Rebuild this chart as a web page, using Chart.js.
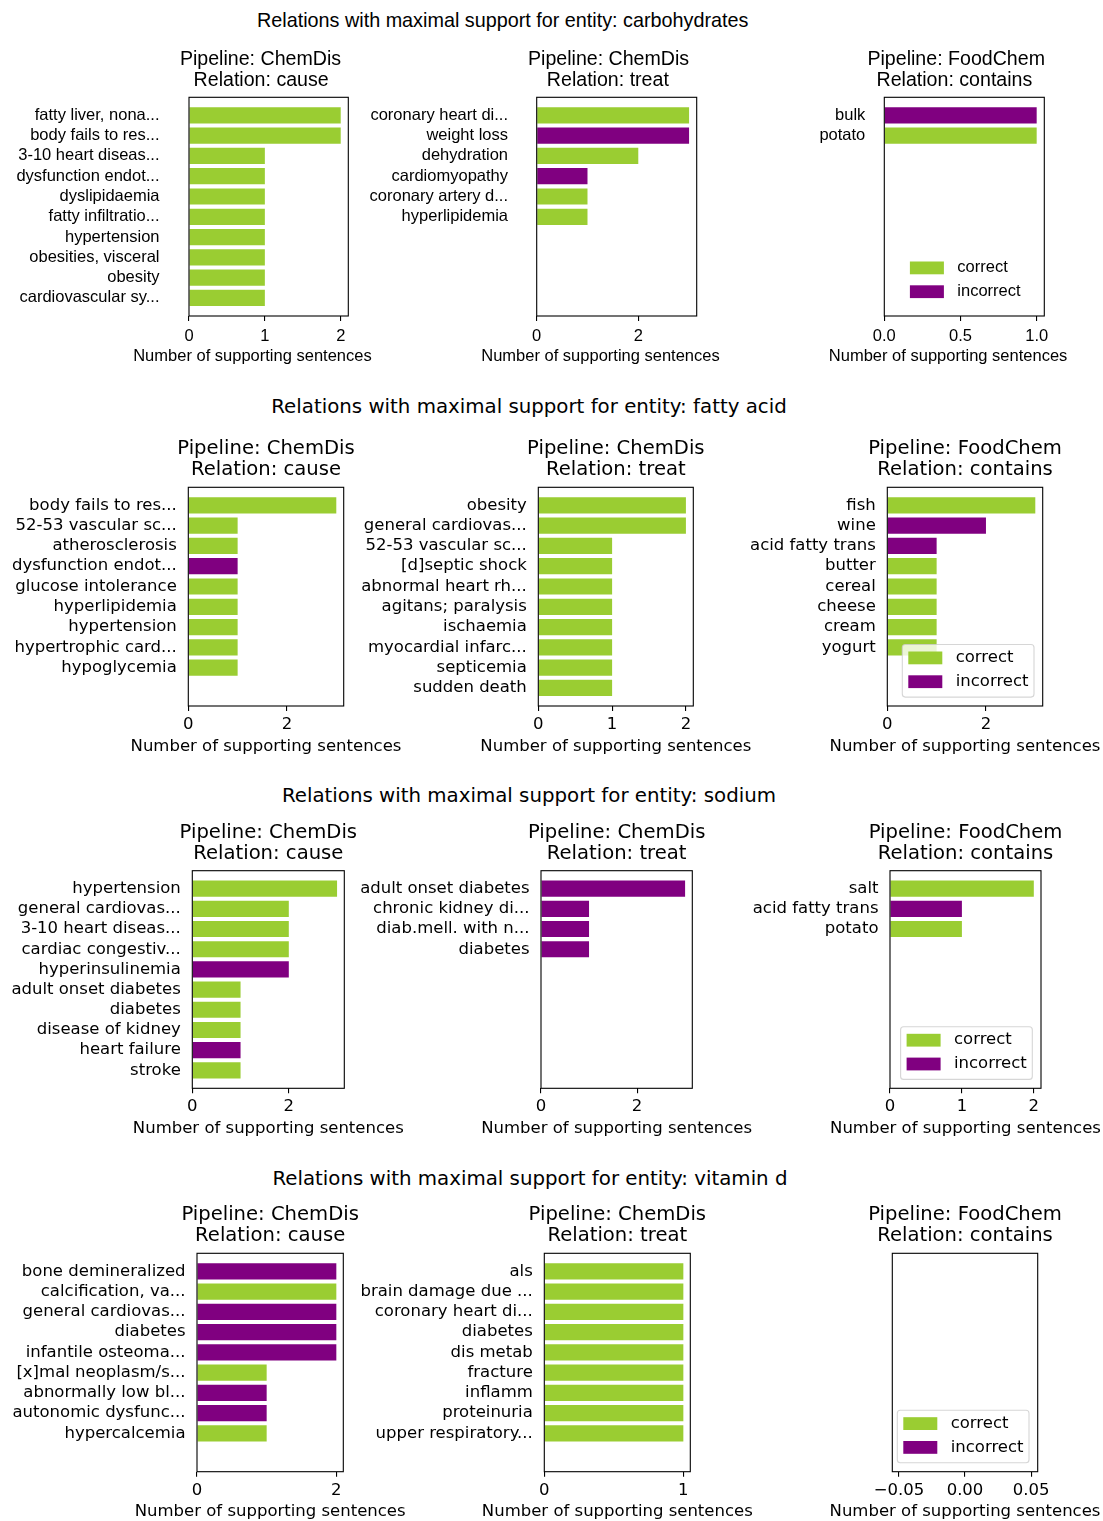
<!DOCTYPE html>
<html lang="en">
<head>
<meta charset="utf-8">
<title>Relations with maximal support</title>
<script src="https://cdn.jsdelivr.net/npm/chart.js@4/dist/chart.umd.min.js"></script>
<style>
  html, body { margin: 0; padding: 0; background: #fff; }
  #figure { position: relative; width: 1103px; height: 1521px; overflow: hidden; background: #fff; }
  #figure canvas { position: absolute; }
  .suptitle { position: absolute; white-space: nowrap; color: #000; font-size: 19.8px; line-height: 24px; height: 24px; }
</style>
</head>
<body>
<div id="figure"></div>
<script>
// ---------------- data ----------------
const entities = ['carbohydrates', 'fatty acid', 'sodium', 'vitamin d'];
const seriesNames = ['correct', 'incorrect'];
const xAxisTitle = 'Number of supporting sentences';

// carbohydrates
const carbCauseLabels = ['fatty liver, nona...', 'body fails to res...', '3-10 heart diseas...', 'dysfunction endot...', 'dyslipidaemia', 'fatty infiltratio...', 'hypertension', 'obesities, visceral', 'obesity', 'cardiovascular sy...'];
const carbCauseCounts = [2, 2, 1, 1, 1, 1, 1, 1, 1, 1];
const carbCauseCorrect = [1, 1, 1, 1, 1, 1, 1, 1, 1, 1];
const carbCauseTicks = [0, 1, 2];
const carbCauseTickText = ['0', '1', '2'];

const carbTreatLabels = ['coronary heart di...', 'weight loss', 'dehydration', 'cardiomyopathy', 'coronary artery d...', 'hyperlipidemia'];
const carbTreatCounts = [3, 3, 2, 1, 1, 1];
const carbTreatCorrect = [1, 0, 1, 0, 1, 1];
const carbTreatTicks = [0, 2];
const carbTreatTickText = ['0', '2'];

const carbContainsLabels = ['bulk', 'potato'];
const carbContainsCounts = [1, 1];
const carbContainsCorrect = [0, 1];
const carbContainsTicks = [0, 0.5, 1];
const carbContainsTickText = ['0.0', '0.5', '1.0'];

// fatty acid
const fattyCauseLabels = ['body fails to res...', '52-53 vascular sc...', 'atherosclerosis', 'dysfunction endot...', 'glucose intolerance', 'hyperlipidemia', 'hypertension', 'hypertrophic card...', 'hypoglycemia'];
const fattyCauseCounts = [3, 1, 1, 1, 1, 1, 1, 1, 1];
const fattyCauseCorrect = [1, 1, 1, 0, 1, 1, 1, 1, 1];
const fattyCauseTicks = [0, 2];
const fattyCauseTickText = ['0', '2'];

const fattyTreatLabels = ['obesity', 'general cardiovas...', '52-53 vascular sc...', '[d]septic shock', 'abnormal heart rh...', 'agitans; paralysis', 'ischaemia', 'myocardial infarc...', 'septicemia', 'sudden death'];
const fattyTreatCounts = [2, 2, 1, 1, 1, 1, 1, 1, 1, 1];
const fattyTreatCorrect = [1, 1, 1, 1, 1, 1, 1, 1, 1, 1];
const fattyTreatTicks = [0, 1, 2];
const fattyTreatTickText = ['0', '1', '2'];

const fattyContainsLabels = ['fish', 'wine', 'acid fatty trans', 'butter', 'cereal', 'cheese', 'cream', 'yogurt'];
const fattyContainsCounts = [3, 2, 1, 1, 1, 1, 1, 1];
const fattyContainsCorrect = [1, 0, 0, 1, 1, 1, 1, 1];
const fattyContainsTicks = [0, 2];
const fattyContainsTickText = ['0', '2'];

// sodium
const sodiumCauseLabels = ['hypertension', 'general cardiovas...', '3-10 heart diseas...', 'cardiac congestiv...', 'hyperinsulinemia', 'adult onset diabetes', 'diabetes', 'disease of kidney', 'heart failure', 'stroke'];
const sodiumCauseCounts = [3, 2, 2, 2, 2, 1, 1, 1, 1, 1];
const sodiumCauseCorrect = [1, 1, 1, 1, 0, 1, 1, 1, 0, 1];
const sodiumCauseTicks = [0, 2];
const sodiumCauseTickText = ['0', '2'];

const sodiumTreatLabels = ['adult onset diabetes', 'chronic kidney di...', 'diab.mell. with n...', 'diabetes'];
const sodiumTreatCounts = [3, 1, 1, 1];
const sodiumTreatCorrect = [0, 0, 0, 0];
const sodiumTreatTicks = [0, 2];
const sodiumTreatTickText = ['0', '2'];

const sodiumContainsLabels = ['salt', 'acid fatty trans', 'potato'];
const sodiumContainsCounts = [2, 1, 1];
const sodiumContainsCorrect = [1, 0, 1];
const sodiumContainsTicks = [0, 1, 2];
const sodiumContainsTickText = ['0', '1', '2'];

// vitamin d
const vitdCauseLabels = ['bone demineralized', 'calcification, va...', 'general cardiovas...', 'diabetes', 'infantile osteoma...', '[x]mal neoplasm/s...', 'abnormally low bl...', 'autonomic dysfunc...', 'hypercalcemia'];
const vitdCauseCounts = [2, 2, 2, 2, 2, 1, 1, 1, 1];
const vitdCauseCorrect = [0, 1, 0, 0, 0, 1, 0, 0, 1];
const vitdCauseTicks = [0, 2];
const vitdCauseTickText = ['0', '2'];

const vitdTreatLabels = ['als', 'brain damage due ...', 'coronary heart di...', 'diabetes', 'dis metab', 'fracture', 'inflamm', 'proteinuria', 'upper respiratory...'];
const vitdTreatCounts = [1, 1, 1, 1, 1, 1, 1, 1, 1];
const vitdTreatCorrect = [1, 1, 1, 1, 1, 1, 1, 1, 1];
const vitdTreatTicks = [0, 1];
const vitdTreatTickText = ['0', '1'];

const vitdContainsLabels = [];
const vitdContainsCounts = [];
const vitdContainsCorrect = [];
const vitdContainsTicks = [-0.05, 0, 0.05];
const vitdContainsTickText = ['\u22120.05', '0.00', '0.05'];

// ---------------- panels ----------------
const panels = [
  { row: 0, col: 0, pipeline: 'ChemDis', relation: 'cause', labels: carbCauseLabels, counts: carbCauseCounts, correct: carbCauseCorrect, ticks: carbCauseTicks, tickText: carbCauseTickText },
  { row: 0, col: 1, pipeline: 'ChemDis', relation: 'treat', labels: carbTreatLabels, counts: carbTreatCounts, correct: carbTreatCorrect, ticks: carbTreatTicks, tickText: carbTreatTickText },
  { row: 0, col: 2, pipeline: 'FoodChem', relation: 'contains', labels: carbContainsLabels, counts: carbContainsCounts, correct: carbContainsCorrect, ticks: carbContainsTicks, tickText: carbContainsTickText },
  { row: 1, col: 0, pipeline: 'ChemDis', relation: 'cause', labels: fattyCauseLabels, counts: fattyCauseCounts, correct: fattyCauseCorrect, ticks: fattyCauseTicks, tickText: fattyCauseTickText },
  { row: 1, col: 1, pipeline: 'ChemDis', relation: 'treat', labels: fattyTreatLabels, counts: fattyTreatCounts, correct: fattyTreatCorrect, ticks: fattyTreatTicks, tickText: fattyTreatTickText },
  { row: 1, col: 2, pipeline: 'FoodChem', relation: 'contains', labels: fattyContainsLabels, counts: fattyContainsCounts, correct: fattyContainsCorrect, ticks: fattyContainsTicks, tickText: fattyContainsTickText },
  { row: 2, col: 0, pipeline: 'ChemDis', relation: 'cause', labels: sodiumCauseLabels, counts: sodiumCauseCounts, correct: sodiumCauseCorrect, ticks: sodiumCauseTicks, tickText: sodiumCauseTickText },
  { row: 2, col: 1, pipeline: 'ChemDis', relation: 'treat', labels: sodiumTreatLabels, counts: sodiumTreatCounts, correct: sodiumTreatCorrect, ticks: sodiumTreatTicks, tickText: sodiumTreatTickText },
  { row: 2, col: 2, pipeline: 'FoodChem', relation: 'contains', labels: sodiumContainsLabels, counts: sodiumContainsCounts, correct: sodiumContainsCorrect, ticks: sodiumContainsTicks, tickText: sodiumContainsTickText },
  { row: 3, col: 0, pipeline: 'ChemDis', relation: 'cause', labels: vitdCauseLabels, counts: vitdCauseCounts, correct: vitdCauseCorrect, ticks: vitdCauseTicks, tickText: vitdCauseTickText },
  { row: 3, col: 1, pipeline: 'ChemDis', relation: 'treat', labels: vitdTreatLabels, counts: vitdTreatCounts, correct: vitdTreatCorrect, ticks: vitdTreatTicks, tickText: vitdTreatTickText },
  { row: 3, col: 2, pipeline: 'FoodChem', relation: 'contains', labels: vitdContainsLabels, counts: vitdContainsCounts, correct: vitdContainsCorrect, ticks: vitdContainsTicks, tickText: vitdContainsTickText }
];

// ---------------- layout & style ----------------
const FONT_ROW1 = "'Liberation Sans', Arial, sans-serif";
const FONT_MAIN = "'DejaVu Sans', sans-serif";
const TICK_PX = 16.5;
const TITLE_PX = 19.6;
const GREEN = '#9acd32';
const PURPLE = '#800080';
const SLOTS = 10;       // every panel reserves room for ten bars
const BAR_FRAC = 0.8;

const rowBoxY = [
  { top: 97.3, bottom: 316 },
  { top: 487.3, bottom: 706 },
  { top: 870.7, bottom: 1088.3 },
  { top: 1253.3, bottom: 1471.7 }
];
const boxX = [
  [[189, 348.3], [536.7, 696.7], [884.3, 1044.3]],
  [[188.3, 343.7], [538.3, 693.3], [887.3, 1042.7]],
  [[192.3, 344.3], [541, 692.3], [890, 1041]],
  [[197, 343.3], [544.3, 690.3], [892.3, 1037.7]]
];
const canvasX = [0, 352, 720];
const canvasW = [430, 420, 383];
const yLabelGap = [[29.5, 28.7, 19], [11.5, 11.5, 11.5], [11.5, 11.5, 11.5], [11.5, 11.5, 11.5]];
const xLabelPad = [5.1, 3.8, 3.8, 3.8];
const suptitlePos = [
  { x: 257, y: 20, align: 'left' },
  { x: 529, y: 406.5, align: 'center' },
  { x: 529, y: 795.5, align: 'center' },
  { x: 530, y: 1178.5, align: 'center' }
];

const fig = document.getElementById('figure');

// row headings
entities.forEach((name, r) => {
  const d = document.createElement('div');
  d.className = 'suptitle';
  d.textContent = 'Relations with maximal support for entity: ' + name;
  d.style.fontFamily = r === 0 ? FONT_ROW1 : FONT_MAIN;
  const pos = suptitlePos[r];
  d.style.top = (pos.y - 12) + 'px';
  if (pos.align === 'left') {
    d.style.left = pos.x + 'px';
  } else {
    d.style.left = (pos.x - 400) + 'px';
    d.style.width = '800px';
    d.style.textAlign = 'center';
  }
  fig.appendChild(d);
});

// text centred on the layout width of DejaVu Sans, drawn in the panel's own face
function drawCentered(ctx, text, cx, y, size, family) {
  ctx.textBaseline = 'middle';
  if (family !== FONT_MAIN) {
    ctx.font = size + 'px ' + FONT_MAIN;
    const w = ctx.measureText(text).width;
    ctx.font = size + 'px ' + family;
    ctx.textAlign = 'left';
    ctx.fillText(text, cx - w / 2, y);
  } else {
    ctx.font = size + 'px ' + family;
    ctx.textAlign = 'center';
    ctx.fillText(text, cx, y);
  }
}

function drawLegend(ctx, chart, a, o) {
  const fx = a.right - 140.4, fy = a.bottom - 61.5, fw = 131.7, fh = 52.6;
  if (o.legendFrame) {
    ctx.beginPath();
    if (ctx.roundRect) ctx.roundRect(fx, fy, fw, fh, 3); else ctx.rect(fx, fy, fw, fh);
    ctx.fillStyle = 'rgba(255,255,255,0.8)';
    ctx.fill();
    ctx.strokeStyle = 'rgba(204,204,204,0.8)';
    ctx.lineWidth = 1.1;
    ctx.stroke();
  }
  chart.data.datasets.forEach((ds, i) => {
    const py = fy + 7 + i * 23.8;
    ctx.fillStyle = ds.backgroundColor;
    ctx.fillRect(fx + 6, py, 34, 12.8);
    ctx.fillStyle = '#000';
    ctx.font = TICK_PX + 'px ' + o.family;
    ctx.textAlign = 'left';
    ctx.textBaseline = 'middle';
    ctx.fillText(ds.label, fx + 53.4, py + 6.4);
  });
}

// frame, titles and legend of one panel
const panelDecor = {
  id: 'panelDecor',
  afterDraw(chart, _args, o) {
    const { ctx, chartArea: a } = chart;
    const cx = (a.left + a.right) / 2;
    ctx.save();
    ctx.strokeStyle = '#000';
    ctx.lineWidth = 1.1;
    ctx.strokeRect(a.left, a.top, a.right - a.left, a.bottom - a.top);
    ctx.fillStyle = '#000';
    drawCentered(ctx, o.title[0], cx, a.top - 38, TITLE_PX, o.family);
    drawCentered(ctx, o.title[1], cx, a.top - 17, TITLE_PX, o.family);
    drawCentered(ctx, xAxisTitle, cx, a.bottom + 40.4, TICK_PX, o.family);
    if (o.legend) drawLegend(ctx, chart, a, o);
    ctx.restore();
  }
};

const slotIndex = Array.from({ length: SLOTS }, (_, i) => i);
const slotMargin = 0.05 * (SLOTS - 1 + BAR_FRAC);
const yMin = -BAR_FRAC / 2 - slotMargin;
const yMax = SLOTS - 1 + BAR_FRAC / 2 + slotMargin;

panels.forEach(p => {
  const [bl, br] = boxX[p.row][p.col];
  const { top: bt, bottom: bb } = rowBoxY[p.row];
  const x0 = canvasX[p.col], w = canvasW[p.col];
  const y0 = Math.floor(bt - 56);
  const h = Math.ceil(bb + 58) - y0;
  const canvas = document.createElement('canvas');
  canvas.width = w;
  canvas.height = h;
  Object.assign(canvas.style, { left: x0 + 'px', top: y0 + 'px', width: w + 'px', height: h + 'px' });
  fig.appendChild(canvas);

  const family = p.row === 0 ? FONT_ROW1 : FONT_MAIN;
  const font = { family, size: TICK_PX, lineHeight: 1.2 };
  const padTop = bt - y0;
  const padRight = x0 + w - br;
  const yAxisW = bl - x0;
  const xAxisH = y0 + h - bb;

  const good = [], bad = [];
  p.counts.forEach((v, i) => (p.correct[i] ? good : bad).push({ x: v, y: i }));

  let xMin = 0, xMax;
  if (p.counts.length) {
    xMax = Math.max(...p.counts) * 1.05;
  } else {
    xMin = -0.055; xMax = 0.055;
  }

  new Chart(canvas, {
    type: 'bar',
    data: {
      datasets: [
        { label: seriesNames[0], data: good, backgroundColor: GREEN, borderWidth: 0 },
        { label: seriesNames[1], data: bad, backgroundColor: PURPLE, borderWidth: 0 }
      ]
    },
    options: {
      indexAxis: 'y',
      responsive: false,
      devicePixelRatio: 1,
      animation: false,
      events: [],
      categoryPercentage: 1,
      barPercentage: BAR_FRAC,
      layout: { padding: { top: padTop, right: padRight, bottom: 0, left: 0 } },
      scales: {
        x: {
          type: 'linear', min: xMin, max: xMax, stacked: true, bounds: 'data', offset: false,
          afterBuildTicks: s => { s.ticks = p.ticks.map(v => ({ value: v })); },
          afterFit: s => { s.height = xAxisH; },
          ticks: {
            autoSkip: false, maxRotation: 0, minRotation: 0,
            padding: xLabelPad[p.row], color: '#000', font,
            callback: (v, i) => p.tickText[i]
          },
          grid: { display: true, offset: false, drawOnChartArea: false, drawTicks: true, tickLength: 5, color: '#000', lineWidth: 1.1 },
          border: { display: false }
        },
        y: {
          type: 'linear', min: yMin, max: yMax, reverse: true, stacked: true, bounds: 'data', offset: false,
          afterBuildTicks: s => { s.ticks = slotIndex.map(v => ({ value: v })); },
          afterFit: s => { s.width = yAxisW; },
          ticks: {
            autoSkip: false, padding: yLabelGap[p.row][p.col], color: '#000', font,
            callback: v => (p.labels[v] !== undefined ? p.labels[v] : '')
          },
          grid: { display: false, offset: false, drawTicks: false },
          border: { display: false }
        }
      },
      plugins: {
        legend: { display: false },
        tooltip: { enabled: false },
        panelDecor: {
          family,
          title: ['Pipeline: ' + p.pipeline, 'Relation: ' + p.relation],
          legend: p.col === 2,
          legendFrame: p.row > 0
        }
      }
    },
    plugins: [panelDecor]
  });
});
</script>
</body>
</html>
